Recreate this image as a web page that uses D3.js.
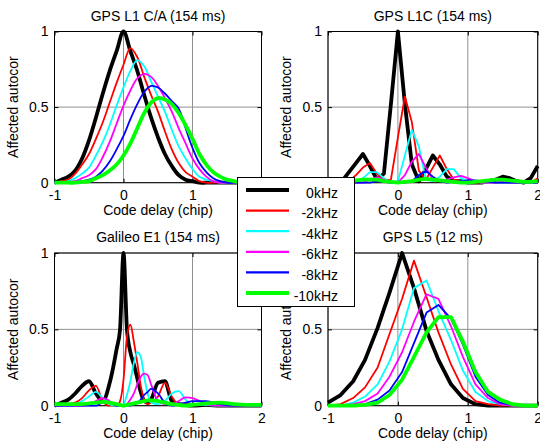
<!DOCTYPE html>
<html>
<head>
<meta charset="utf-8">
<script src="https://cdn.jsdelivr.net/npm/d3@7"></script>
<style>
body { margin: 0; background: #fff; }
svg { display: block; font-family: "Liberation Sans", Arial, sans-serif; }
</style>
</head>
<body>
<div id="chart"></div>
<script>
// legend entries (Doppler offsets)
var dopplerLabels = ["0kHz", "-2kHz", "-4kHz", "-6kHz", "-8kHz", "-10kHz"];
var xTicks = [-1, 0, 1, 2];
var yTicks = [0, 0.5, 1];

// GPS L1 C/A - code delay grid (chip)
var caDelay = [-1, -0.9, -0.8, -0.7, -0.6, -0.5, -0.4, -0.3, -0.2, -0.1, 0, 0.1, 0.2, 0.3, 0.4, 0.5, 0.6, 0.7, 0.8, 0.9, 1, 1.1, 1.2, 1.3, 1.4, 1.5, 1.6, 1.7, 1.8, 1.9, 2];
var ca0 =  [0, 0.02, 0.04, 0.08, 0.16, 0.28, 0.43, 0.59, 0.74, 0.87, 1.0, 0.87, 0.74, 0.58, 0.43, 0.30, 0.19, 0.11, 0.05, 0.02, 0.01, 0, 0, 0, 0, 0, 0, 0, 0, 0, 0];
var ca2 =  [0, 0.01, 0.02, 0.06, 0.12, 0.19, 0.29, 0.40, 0.53, 0.66, 0.78, 0.89, 0.83, 0.70, 0.58, 0.47, 0.34, 0.22, 0.13, 0.07, 0.04, 0.01, 0, 0, 0, 0, 0, 0, 0, 0, 0];
var ca4 =  [0, 0, 0.01, 0.03, 0.06, 0.10, 0.18, 0.27, 0.38, 0.51, 0.63, 0.74, 0.81, 0.77, 0.67, 0.57, 0.47, 0.35, 0.24, 0.16, 0.09, 0.04, 0.02, 0.01, 0, 0, 0, 0, 0, 0, 0];
var ca6 =  [0, 0, 0.005, 0.01, 0.03, 0.05, 0.09, 0.17, 0.27, 0.39, 0.51, 0.61, 0.69, 0.72, 0.70, 0.64, 0.56, 0.47, 0.36, 0.26, 0.16, 0.09, 0.04, 0.01, 0, 0, 0, 0, 0, 0, 0];
var ca8 =  [0, 0, 0, 0.005, 0.01, 0.02, 0.04, 0.08, 0.14, 0.22, 0.31, 0.42, 0.52, 0.60, 0.64, 0.63, 0.59, 0.54, 0.49, 0.36, 0.23, 0.13, 0.07, 0.03, 0.01, 0, 0, 0, 0, 0, 0];
var ca10 = [0, 0, 0, 0, 0.005, 0.01, 0.03, 0.05, 0.08, 0.12, 0.18, 0.26, 0.36, 0.46, 0.53, 0.56, 0.55, 0.52, 0.46, 0.38, 0.29, 0.19, 0.12, 0.07, 0.04, 0.02, 0.01, 0, 0, 0, 0];

// GPS L1C
var l1cDelay = caDelay;
var l1c0 =  [0, 0, 0.01, 0.07, 0.13, 0.19, 0.11, 0.02, 0.06, 0.52, 1.0, 0.52, 0.12, 0.01, 0.09, 0.18, 0.12, 0.04, 0.01, 0.01, 0, 0, 0, 0.01, 0.02, 0.04, 0.03, 0.01, 0, 0.03, 0.11];
var l1c2 =  [0, 0, 0, 0.01, 0.05, 0.10, 0.13, 0.06, 0.01, 0.02, 0.30, 0.57, 0.40, 0.08, 0.02, 0.10, 0.18, 0.09, 0.02, 0.01, 0.01, 0, 0, 0, 0, 0, 0, 0, 0, 0, 0.03];
var l1c4 =  [0, 0, 0, 0, 0, 0.03, 0.07, 0.07, 0.03, 0, 0.01, 0.18, 0.35, 0.24, 0.02, 0.01, 0.04, 0.09, 0.09, 0.03, 0.01, 0.01, 0, 0, 0, 0, 0, 0, 0, 0, 0];
var l1c6 =  [0, 0, 0, 0, 0, 0, 0.02, 0.035, 0.02, 0, 0, 0.05, 0.14, 0.19, 0.10, 0.02, 0.01, 0.02, 0.035, 0.045, 0.03, 0.01, 0, 0, 0, 0.01, 0, 0, 0, 0, 0];
var l1c8 =  [0, 0, 0, 0, 0, 0, 0, 0.01, 0.005, 0, 0, 0, 0.01, 0.05, 0.077, 0.04, 0.01, 0, 0.005, 0.01, 0.015, 0.015, 0.01, 0.005, 0, 0, 0, 0, 0, 0, 0];
var l1c10 = [0.005, 0.005, 0.01, 0.01, 0.015, 0.02, 0.02, 0.02, 0.01, 0.005, 0, 0.005, 0.01, 0.02, 0.025, 0.02, 0.015, 0.01, 0.005, 0, 0, 0.005, 0.01, 0.015, 0.02, 0.02, 0.015, 0.01, 0.005, 0.005, 0.01];

// Galileo E1
var e1Delay = [-1, -0.9, -0.8, -0.7, -0.6, -0.5, -0.4, -0.3, -0.2, -0.15, -0.1, -0.05, 0, 0.05, 0.1, 0.15, 0.2, 0.25, 0.3, 0.35, 0.4, 0.5, 0.6, 0.7, 0.8, 0.9, 1, 1.2, 1.4, 1.6, 1.8, 2];
var e10 =  [0, 0.02, 0.04, 0.08, 0.13, 0.16, 0.08, 0.03, 0.15, 0.25, 0.37, 0.5, 1.0, 0.5, 0.35, 0.27, 0.18, 0.09, 0.03, 0.02, 0.04, 0.15, 0.16, 0.03, 0.01, 0.005, 0, 0.005, 0, 0, 0, 0];
var e12 =  [0, 0, 0.01, 0.02, 0.05, 0.10, 0.13, 0.03, 0, 0, 0, 0.03, 0.17, 0.45, 0.53, 0.42, 0.28, 0.13, 0.04, 0.01, 0.02, 0.06, 0.15, 0.06, 0.01, 0.01, 0.01, 0.005, 0, 0, 0, 0];
var e14 =  [0, 0, 0, 0.01, 0.03, 0.06, 0.09, 0.05, 0.01, 0, 0, 0, 0.01, 0.07, 0.16, 0.28, 0.35, 0.32, 0.19, 0.08, 0.02, 0.01, 0.03, 0.08, 0.095, 0.04, 0.01, 0.005, 0, 0, 0, 0];
var e16 =  [0, 0, 0, 0, 0, 0.01, 0.03, 0.05, 0.03, 0.01, 0, 0, 0, 0.01, 0.04, 0.08, 0.14, 0.19, 0.21, 0.20, 0.14, 0.03, 0.01, 0.01, 0.03, 0.055, 0.05, 0.01, 0, 0, 0, 0];
var e18 =  [0, 0, 0, 0, 0, 0, 0, 0.02, 0.02, 0.01, 0, 0, 0, 0, 0, 0.01, 0.02, 0.04, 0.07, 0.09, 0.11, 0.08, 0.02, 0, 0.01, 0.02, 0.03, 0.03, 0.01, 0, 0, 0];
var e110 = [0.01, 0.01, 0.01, 0.01, 0.01, 0.015, 0.02, 0.025, 0.02, 0.015, 0.01, 0.005, 0, 0.005, 0.01, 0.015, 0.02, 0.025, 0.03, 0.035, 0.035, 0.03, 0.02, 0.01, 0.005, 0, 0.005, 0.015, 0.02, 0.01, 0.005, 0.005];

// GPS L5
var l5Delay = [-1, -0.82, -0.64, -0.47, -0.29, -0.12, 0.06, 0.23, 0.41, 0.58, 0.76, 0.93, 1.11, 1.29, 1.46, 1.64, 1.82, 2];
var l50 =  [0.02, 0.07, 0.16, 0.30, 0.51, 0.74, 1.0, 0.77, 0.49, 0.30, 0.14, 0.05, 0.01, 0, 0, 0, 0, 0];
var l52 =  [0, 0.01, 0.05, 0.12, 0.25, 0.47, 0.70, 0.95, 0.71, 0.48, 0.27, 0.11, 0.03, 0.01, 0, 0, 0, 0];
var l54 =  [0, 0, 0.02, 0.06, 0.14, 0.29, 0.50, 0.77, 0.82, 0.62, 0.43, 0.23, 0.09, 0.03, 0.01, 0, 0, 0];
var l56 =  [0, 0, 0.01, 0.03, 0.08, 0.19, 0.35, 0.55, 0.73, 0.70, 0.52, 0.32, 0.14, 0.05, 0.01, 0, 0, 0];
var l58 =  [0, 0, 0, 0.01, 0.04, 0.10, 0.22, 0.41, 0.61, 0.66, 0.57, 0.40, 0.19, 0.07, 0.02, 0.005, 0, 0];
var l510 = [0, 0, 0, 0.005, 0.02, 0.07, 0.17, 0.32, 0.48, 0.58, 0.58, 0.42, 0.22, 0.09, 0.04, 0.01, 0, 0];

var colors = ["#000000", "#ff0000", "#00ffff", "#ff00ff", "#0000ff", "#00ff00"];
var lineWidths = [3.8, 1.8, 1.8, 1.8, 1.8, 3.8];
var font = "Liberation Sans, Arial, sans-serif";

var width = 540, height = 448;

var svg = d3.select("#chart").append("svg")
    .attr("width", width)
    .attr("height", height);

svg.append("rect").attr("width", width).attr("height", height).attr("fill", "#fff");

var panels = [
  {title: "GPS L1 C/A (154 ms)", xs: caDelay, ys: [ca0, ca2, ca4, ca6, ca8, ca10], curve: d3.curveCatmullRom.alpha(0.5),
   left: 54.5, right: 261.5, top: 31.5, bottom: 182.7},
  {title: "GPS L1C (154 ms)", xs: l1cDelay, ys: [l1c0, l1c2, l1c4, l1c6, l1c8, l1c10], curve: d3.curveLinear,
   left: 328, right: 537.7, top: 31.5, bottom: 182.7},
  {title: "Galileo E1 (154 ms)", xs: e1Delay, ys: [e10, e12, e14, e16, e18, e110], curve: d3.curveMonotoneX,
   left: 54.5, right: 261.5, top: 253, bottom: 405.7},
  {title: "GPS L5 (12 ms)", xs: l5Delay, ys: [l50, l52, l54, l56, l58, l510], curve: d3.curveLinear,
   left: 328, right: 537.7, top: 253, bottom: 405.7}
];

function fmt(d) { return String(d); }

function styleAxis(sel) {
  sel.attr("font-size", 14).attr("font-family", font);
  sel.select(".domain").remove();
  sel.selectAll(".tick line").attr("stroke", "#000");
  sel.selectAll(".tick text").attr("fill", "#000");
}

function drawPanel(p) {
  var x = d3.scaleLinear().domain([-1, 2]).range([p.left, p.right]);
  var y = d3.scaleLinear().domain([0, 1]).range([p.bottom, p.top]);
  var g = svg.append("g");

  // grid
  g.selectAll(".gx").data(xTicks).enter().append("line")
    .attr("x1", function(d) { return x(d); }).attr("x2", function(d) { return x(d); })
    .attr("y1", p.top).attr("y2", p.bottom)
    .attr("stroke", "#909090").attr("stroke-width", 1);
  g.selectAll(".gy").data(yTicks).enter().append("line")
    .attr("x1", p.left).attr("x2", p.right)
    .attr("y1", function(d) { return y(d); }).attr("y2", function(d) { return y(d); })
    .attr("stroke", "#909090").attr("stroke-width", 1);

  // axes, ticks pointing inward
  g.append("g").attr("transform", "translate(0," + p.bottom + ")")
    .call(d3.axisBottom(x).tickValues(xTicks).tickFormat(fmt).tickSizeInner(-4).tickSizeOuter(0).tickPadding(7))
    .call(styleAxis);
  g.append("g").attr("transform", "translate(0," + p.top + ")")
    .call(d3.axisTop(x).tickValues(xTicks).tickFormat("").tickSizeInner(-4).tickSizeOuter(0))
    .call(styleAxis);
  g.append("g").attr("transform", "translate(" + p.left + ",0)")
    .call(d3.axisLeft(y).tickValues(yTicks).tickFormat(fmt).tickSizeInner(-4).tickSizeOuter(0).tickPadding(6))
    .call(styleAxis);
  g.append("g").attr("transform", "translate(" + p.right + ",0)")
    .call(d3.axisRight(y).tickValues(yTicks).tickFormat("").tickSizeInner(-4).tickSizeOuter(0))
    .call(styleAxis);

  g.append("rect")
    .attr("x", p.left).attr("y", p.top)
    .attr("width", p.right - p.left).attr("height", p.bottom - p.top)
    .attr("fill", "none").attr("stroke", "#000").attr("stroke-width", 1);

  var line = d3.line()
    .x(function(d, i) { return x(p.xs[i]); })
    .y(function(d) { return y(d); })
    .curve(p.curve);

  g.selectAll(".series").data(p.ys).enter().append("path")
    .attr("d", function(d) { return line(d); })
    .attr("fill", "none")
    .attr("stroke", function(d, i) { return colors[i]; })
    .attr("stroke-width", function(d, i) { return lineWidths[i]; })
    .attr("stroke-linejoin", "round");

  g.append("text")
    .attr("x", (p.left + p.right) / 2).attr("y", p.top - 11)
    .attr("text-anchor", "middle").attr("font-size", 14).attr("font-family", font)
    .text(p.title);

  g.append("text")
    .attr("x", (p.left + p.right) / 2).attr("y", p.bottom + 32)
    .attr("text-anchor", "middle").attr("font-size", 14).attr("font-family", font)
    .text("Code delay (chip)");

  g.append("text")
    .attr("transform", "translate(" + (p.left - 37) + "," + ((p.top + p.bottom) / 2) + ") rotate(-90)")
    .attr("text-anchor", "middle").attr("font-size", 14).attr("font-family", font)
    .text("Affected autocor");
}

panels.forEach(drawPanel);

// legend box on top of the four panels
var legend = svg.append("g");
legend.append("rect")
  .attr("x", 237.5).attr("y", 177.5).attr("width", 117).attr("height", 129)
  .attr("fill", "#fff").attr("stroke", "#000").attr("stroke-width", 1);

var legendY = d3.scalePoint().domain(dopplerLabels).range([190, 293]);

legend.selectAll(".ll").data(dopplerLabels).enter().append("line")
  .attr("x1", 246).attr("x2", 289)
  .attr("y1", function(d) { return legendY(d); }).attr("y2", function(d) { return legendY(d); })
  .attr("stroke", function(d, i) { return colors[i]; })
  .attr("stroke-width", function(d, i) { return lineWidths[i] + 0.4; });

legend.selectAll(".lt").data(dopplerLabels).enter().append("text")
  .attr("x", 338).attr("y", function(d) { return legendY(d) + 7.5; })
  .attr("text-anchor", "end").attr("font-size", 14).attr("font-family", font)
  .text(function(d) { return d; });
</script>
</body>
</html>
